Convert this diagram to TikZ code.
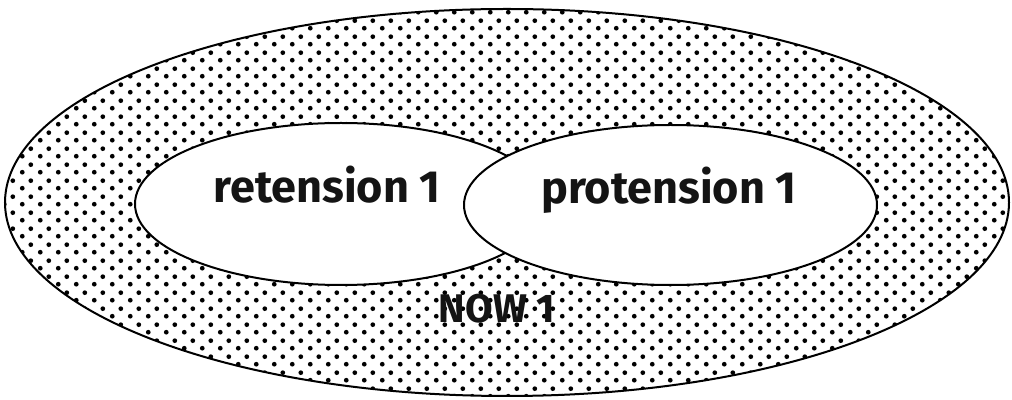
\documentclass[tikz,border=0pt]{standalone}
\usepackage{fontspec}
\setmainfont{Fira Sans}
\usetikzlibrary{shapes.geometric,patterns.meta}
\tikzdeclarepattern{
  name=stipple,
  type=uncolored,
  bottom left={(0pt,0pt)},
  top right={(9pt,8pt)},
  tile size={(9pt,8pt)},
  code={
    \fill (2.25pt,2pt) circle (1.25pt);
    \fill (6.75pt,6pt) circle (1.25pt);
  }
}
\tikzset{
  blob/.style={ellipse, draw=black, line width=1pt, inner sep=0pt},
  outerblob/.style={blob, pattern=stipple, pattern color=black, preaction={fill=white}},
  innerblob/.style={blob, fill=white},
  biglabel/.style={anchor=base, font=\fontsize{22.5}{26}\selectfont\bfseries, text=black!92},
  nowlabel/.style={anchor=base, font=\fontsize{20}{24}\selectfont\bfseries, text=black!92}
}
\begin{document}
\begin{tikzpicture}[x=0.5pt,y=-0.5pt]
\useasboundingbox (0,0) rectangle (1012,400);
\node[outerblob, minimum width=502pt, minimum height=193.5pt] (now) at (507,202.5) {};
\node[innerblob, minimum width=206pt, minimum height=81pt] (ret) at (341,204) {};
\node[innerblob, minimum width=206.5pt, minimum height=80pt] (pro) at (670.5,205) {};
\node[biglabel] (rett) at (327,203) {retension 1};
\node[biglabel] (prot) at (669,204) {protension 1};
\node[nowlabel] (nowt) at (497,323) {NOW 1};
\end{tikzpicture}
\end{document}
